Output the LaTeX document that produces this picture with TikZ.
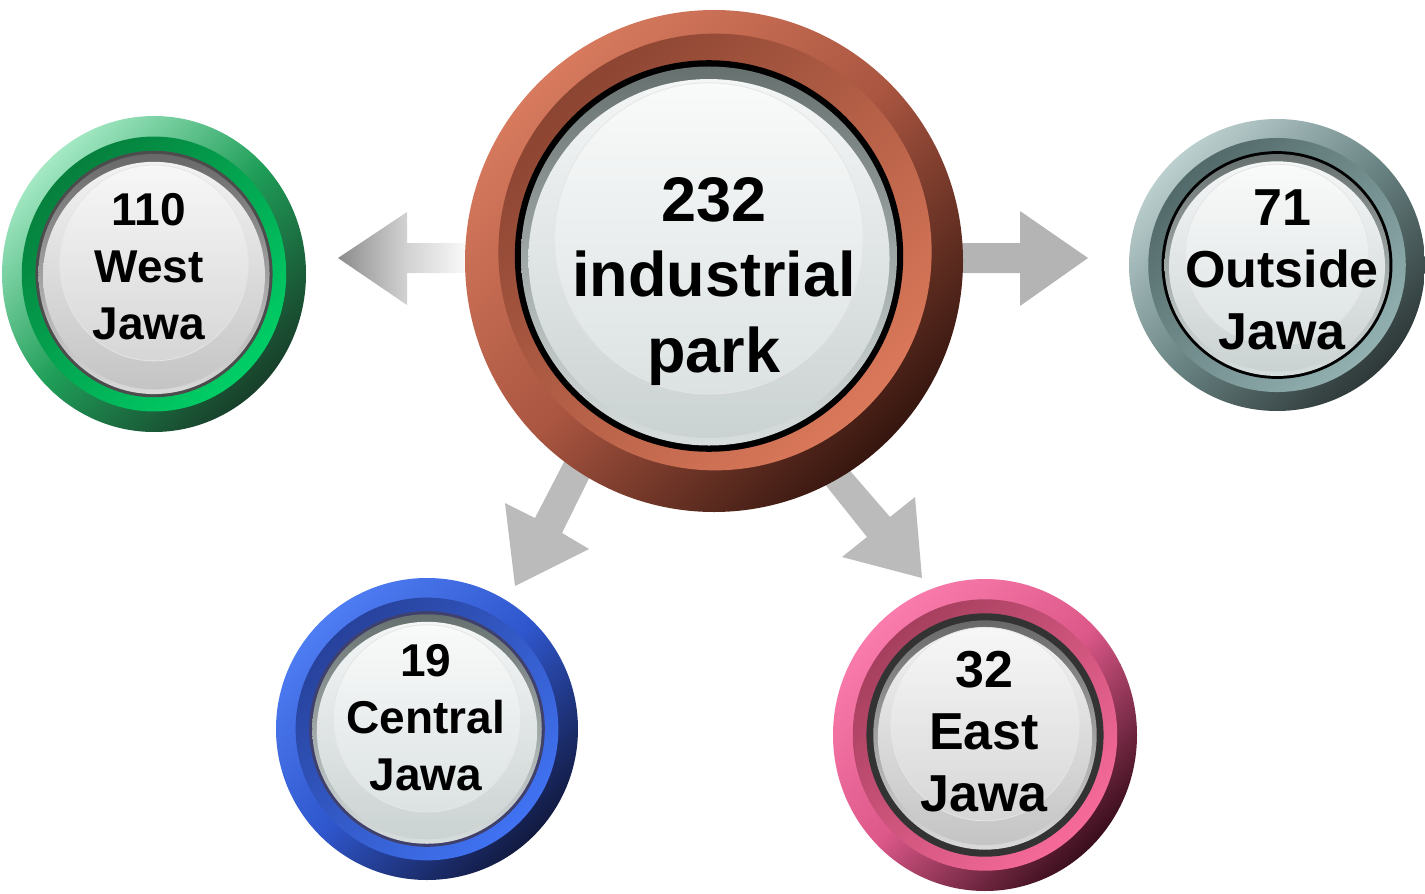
\documentclass[tikz,border=0pt]{standalone}
\usepackage{fontspec}
\setmainfont{Liberation Sans}
\usetikzlibrary{calc}

\definecolor{arrowgray}{HTML}{BBBBBB}
\definecolor{arrowgrayB}{HTML}{B4B4B4}
% brown (centre)
\definecolor{brL}{HTML}{D77A5E}
\definecolor{brM}{HTML}{A95540}
\definecolor{brD}{HTML}{36160F}
\definecolor{brBD}{HTML}{8C4532}
\definecolor{brBL}{HTML}{DA785A}
% green
\definecolor{grL}{HTML}{A4E8C4}
\definecolor{grM}{HTML}{1F9E58}
\definecolor{grD}{HTML}{183F2A}
\definecolor{grBD}{HTML}{06803D}
\definecolor{grBL}{HTML}{00CE66}
% slate
\definecolor{slL}{HTML}{BCCFCF}
\definecolor{slM}{HTML}{6A8484}
\definecolor{slD}{HTML}{2E3838}
\definecolor{slBD}{HTML}{536A6A}
\definecolor{slBL}{HTML}{92B0B0}
% blue
\definecolor{buL}{HTML}{4E7CF2}
\definecolor{buM}{HTML}{2F56CC}
\definecolor{buD}{HTML}{121A40}
\definecolor{buBD}{HTML}{27429C}
\definecolor{buBL}{HTML}{4072F2}
% pink
\definecolor{pkL}{HTML}{FA7CAC}
\definecolor{pkM}{HTML}{DC5889}
\definecolor{pkD}{HTML}{3A0E1C}
\definecolor{pkBD}{HTML}{A63F5E}
\definecolor{pkBL}{HTML}{F66A9A}
% bluish glass
\definecolor{bgRA}{HTML}{66706F}
\definecolor{bgRB}{HTML}{D8DEDE}
\definecolor{bgGA}{HTML}{F4F6F6}
\definecolor{bgGB}{HTML}{CBD2D2}
\definecolor{bgHA}{HTML}{F9FAFA}
\definecolor{bgHB}{HTML}{DCE2E2}
% neutral glass
\definecolor{ngRA}{HTML}{686868}
\definecolor{ngRB}{HTML}{DADADA}
\definecolor{ngGA}{HTML}{F2F2F2}
\definecolor{ngGB}{HTML}{C4C4C4}
\definecolor{ngHA}{HTML}{F7F7F7}
\definecolor{ngHB}{HTML}{D6D6D6}

\tikzset{
  lbl/.style={align=center, inner sep=0pt, text=black},
  smalllbl/.style={lbl, font=\fontsize{23}{28.5}\selectfont\bfseries},
  midlbl/.style={lbl, font=\fontsize{26}{31}\selectfont\bfseries},
  biglbl/.style={lbl, font=\fontsize{31.5}{37.75}\selectfont\bfseries},
  blockarrow/.style={fill=arrowgray},
  fadearrow/.style={left color=#1, right color=white, middle color=#1!40!white},
}

% #1 outer centre, #2 band centre, #3 inner centre, #4 x radius, #5 y radius,
% #6 colour prefix, #7 border colour, #8 ring ratio, #9 glass prefix
\newcommand\glassbutton[9]{%
  \shade[shading=axis, top color=#6L, bottom color=#6D, middle color=#6M, shading angle=45]
    (#1) ellipse[x radius=#4, y radius=#5];
  \shade[shading=axis, top color=#6BD, bottom color=#6BL, shading angle=45]
    (#2) ellipse[x radius=0.87*#4, y radius=0.87*#5];
  \fill[#7] (#3) ellipse[x radius=0.78*#4, y radius=0.78*#5];
  \shade[top color=#9RA, bottom color=#9RB]
    (#3) ellipse[x radius=#8*#4, y radius=#8*#5];
  \shade[top color=#9GA, bottom color=#9GB]
    ([yshift=-0.01*#5]#3) ellipse[x radius=(#8-0.03)*#4, y radius=(#8-0.04)*#5];
  \shade[top color=#9HA, bottom color=#9HB, draw=white!80!gray, line width=0.4pt]
    ([yshift=0.07*#5]#3) ellipse[x radius=0.62*#4, y radius=0.62*#5];
}

\begin{document}
\begin{tikzpicture}[x=0.5pt,y=-0.5pt]
\useasboundingbox (0,0) rectangle (1425,894);

% centres
\coordinate (cC) at (714,261);
\coordinate (cCb) at (715,252);
\coordinate (cCi) at (709,256);
\coordinate (wC) at (154,274);
\coordinate (oC) at (1277,265);
\coordinate (zC) at (427,729);
\coordinate (eC) at (985,735);

% arrows (behind the buttons)
\shade[fadearrow=arrowgray!75!black] (338,258) -- (407,212) -- (407,243) -- (474,243)
  -- (474,273) -- (407,273) -- (407,305) -- cycle;
\fill[arrowgrayB] (952,243) -- (1020,243) -- (1020,211) -- (1088,258) -- (1020,306)
  -- (1020,273) -- (952,273) -- cycle;
\fill[blockarrow] (580,431) -- (535,518) -- (505,503) -- (515,586) -- (589,549)
  -- (562,533) -- (606,444) -- cycle;
\fill[blockarrow] (826,443) -- (890,517) -- (915,497) -- (922,578) -- (842,557)
  -- (867,537) -- (804,458) -- cycle;

% buttons
\glassbutton{cC}{cCb}{cCi}{124.5pt}{125.5pt}{br}{black}{0.755}{bg}
\glassbutton{wC}{wC}{wC}{76pt}{79pt}{gr}{black!70}{0.76}{ng}
\glassbutton{oC}{oC}{oC}{74pt}{73pt}{sl}{black}{0.76}{bg}
\glassbutton{zC}{zC}{zC}{75.5pt}{75.5pt}{bu}{black!65!blue!50!gray}{0.76}{bg}
\glassbutton{eC}{eC}{eC}{76pt}{78pt}{pk}{black!80}{0.735}{ng}

% labels
\node[biglbl] (center) at (714,281.5) {232\\industrial\\park};
\node[smalllbl] (west) at (149,267) {110\\West\\Jawa};
\node[midlbl] (outside) at (1282,270) {71\\Outside\\Jawa};
\node[smalllbl] (central) at (426,718) {19\\Central\\Jawa};
\node[midlbl] (east) at (984,732) {32\\East\\Jawa};
\end{tikzpicture}
\end{document}
